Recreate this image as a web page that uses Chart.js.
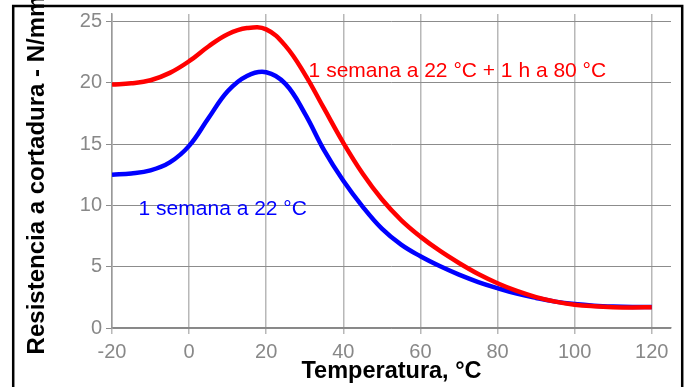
<!DOCTYPE html>
<html>
<head>
<meta charset="utf-8">
<script src="https://cdn.jsdelivr.net/npm/chart.js@4"></script>
<style>
  html, body { margin: 0; padding: 0; background: #fff; }
  #wrap { width: 687px; height: 387px; position: relative; }
</style>
</head>
<body>
<div id="wrap"><canvas id="shearChart"></canvas></div>
<script>
// temperatura (°C)
var temps = [-20, -15, -10, -5, 0, 5, 10, 15, 20, 25, 30, 35, 40, 45, 50, 55, 60, 65, 70, 75, 80, 85, 90, 95, 100, 105, 110, 115, 120];
// 1 semana a 22 °C + 1 h a 80 °C
var redValues = [19.85, 19.95, 20.2, 20.8, 21.75, 22.95, 23.95, 24.45, 24.35, 23.0, 20.7, 17.9, 15.1, 12.6, 10.5, 8.8, 7.45, 6.3, 5.3, 4.4, 3.65, 3.02, 2.52, 2.15, 1.9, 1.77, 1.7, 1.68, 1.7];
// 1 semana a 22 °C
var blueValues = [12.5, 12.6, 12.85, 13.5, 14.85, 17.1, 19.3, 20.55, 20.85, 19.9, 17.5, 14.5, 12.0, 9.9, 8.1, 6.8, 5.85, 5.05, 4.35, 3.75, 3.25, 2.8, 2.45, 2.15, 1.95, 1.82, 1.75, 1.72, 1.72];

var seriesNames = ['1 semana a 22 °C + 1 h a 80 °C', '1 semana a 22 °C'];
// label anchors in data units (left edge, baseline)
var labelX = [31.0, -13.1];
var labelY = [20.5, 9.2];

var xTitle = 'Temperatura, °C';
var yTitle = 'Resistencia a cortadura - N/mm²';

var fontFam = "'Liberation Sans', Arial, sans-serif";
var colors = ['#ff0000', '#0000ff'];

function toPoints(vals) {
    return temps.map(function(t, i) { return { x: t, y: vals[i] }; });
}

var frame = {
    id: 'frame',
    afterDraw: function(chart) {
        var c = chart.ctx;
        c.save();
        c.strokeStyle = '#000';
        c.lineWidth = 2.5;
        c.strokeRect(13.2, 6, 669, 500);
        c.restore();
    }
};

var curveLabels = {
    id: 'curveLabels',
    afterDatasetsDraw: function(chart) {
        var c = chart.ctx;
        var xs = chart.scales.x, ys = chart.scales.y;
        c.save();
        c.font = '21px ' + fontFam;
        c.textAlign = 'left';
        c.textBaseline = 'alphabetic';
        seriesNames.forEach(function(name, i) {
            c.fillStyle = colors[i];
            c.fillText(name, xs.getPixelForValue(labelX[i]), ys.getPixelForValue(labelY[i]));
        });
        c.restore();
    }
};

document.addEventListener("DOMContentLoaded", function() {
    var ctx = document.getElementById('shearChart').getContext('2d');
    new Chart(ctx, {
        type: 'line',
        data: {
            datasets: [{
                label: seriesNames[0],
                data: toPoints(redValues),
                borderColor: colors[0],
                borderWidth: 4.5,
                pointRadius: 0,
                tension: 0.4,
                fill: false
            }, {
                label: seriesNames[1],
                data: toPoints(blueValues),
                borderColor: colors[1],
                borderWidth: 4.5,
                pointRadius: 0,
                tension: 0.4,
                fill: false
            }]
        },
        options: {
            responsive: true,
            maintainAspectRatio: false,
            animation: false,
            layout: { padding: { left: 0, top: 14, right: 16, bottom: 0 } },
            plugins: {
                legend: { display: false },
                tooltip: { enabled: false }
            },
            scales: {
                x: {
                    type: 'linear',
                    min: -20,
                    max: 125,
                    afterFit: function(s) { s.height = 59; s.paddingLeft = 0; s.paddingRight = 0; },
                    ticks: {
                        stepSize: 20,
                        includeBounds: false,
                        color: '#888',
                        padding: 6,
                        maxRotation: 0,
                        font: { family: fontFam, size: 20 }
                    },
                    grid: { color: '#b8b8b8', lineWidth: 1.5, tickLength: 6 },
                    border: { color: '#888', width: 1.5 },
                    title: {
                        display: true,
                        text: xTitle,
                        color: '#000',
                        padding: { top: 0, bottom: 1 },
                        font: { family: fontFam, size: 23.5, weight: 'bold' }
                    }
                },
                y: {
                    min: 0,
                    max: 25.6,
                    afterFit: function(s) { s.width = 112; s.paddingTop = 0; s.paddingBottom = 0; },
                    ticks: {
                        stepSize: 5,
                        includeBounds: false,
                        color: '#888',
                        padding: 4,
                        font: { family: fontFam, size: 20 }
                    },
                    grid: { color: '#8c8c8c', lineWidth: 1, tickLength: 6 },
                    border: { color: '#999', width: 1.5 },
                    title: {
                        display: true,
                        text: yTitle,
                        color: '#000',
                        padding: { top: 23, bottom: 0 },
                        font: { family: fontFam, size: 24, weight: 'bold' }
                    }
                }
            }
        },
        plugins: [curveLabels, frame]
    });
});
</script>
</body>
</html>
